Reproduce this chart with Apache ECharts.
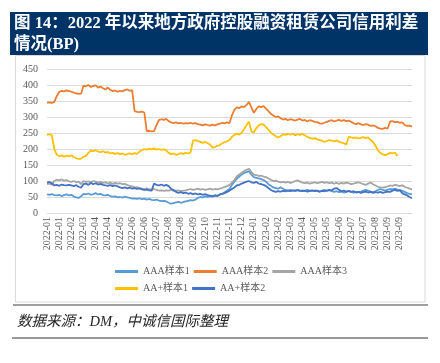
<!DOCTYPE html>
<html><head><meta charset="utf-8">
<script src="https://cdn.jsdelivr.net/npm/echarts@6/dist/echarts.min.js"></script>
<style>html,body{margin:0;padding:0;background:#fff;}#c{width:440px;height:363px;}</style>
</head><body><div id="c"></div>
<script>
const tickLabels = ['2022-01','2022-01','2022-02','2022-03','2022-04','2022-04','2022-05','2022-06','2022-06','2022-07','2022-08','2022-08','2022-09','2022-10','2022-11','2022-11','2022-12','2023-01','2023-02','2023-02','2023-03','2023-04','2023-05','2023-05','2023-06','2023-07','2023-07','2023-08','2023-09','2023-09'];
const pointsPerLabel = 5;
const pointCount = 151;
const seriesNames = ['AAA样本1','AAA样本2','AAA样本3','AA+样本1','AA+样本2'];
const yTicks = [0,50,100,150,200,250,300,350,400,450];

const aaa1 = [58,57,59,56,55,57,53,56,58,55,
57,52,49,47,52,60,58,61,57,59,
62,58,60,56,55,57,53,51,52,49,
50,48,51,49,47,45,46,44,46,43,
45,42,44,41,40,42,39,37,38,36,
32,29,31,33,35,32,34,36,38,40,
39,42,47,50,49,52,50,53,51,55,
54,57,60,65,70,75,88,98,107,114,
120,125,128,130,120,112,110,108,106,103,
98,90,85,80,78,76,80,76,72,70,
72,69,71,70,68,71,69,72,70,68,
71,69,67,70,72,69,71,68,66,68,
65,67,64,66,68,66,64,66,65,67,
70,72,70,67,65,68,72,75,72,70,
73,75,74,76,73,72,69,66,62,60,58];

const aaa2 = [345,346,344,347,365,378,382,380,383,381,
379,376,374,372,373,398,396,400,394,397,
399,392,395,390,386,392,385,381,383,379,
382,380,384,386,382,384,318,316,315,317,
314,256,257,255,256,275,290,293,291,294,
287,283,281,283,280,282,279,281,280,282,
279,281,278,276,274,277,275,273,276,274,
277,279,282,280,283,281,305,322,330,328,
333,331,338,347,330,313,325,333,331,334,
326,318,310,305,300,302,296,292,294,290,
293,291,289,292,294,289,291,286,290,288,
285,284,280,279,282,285,288,290,286,289,
291,288,290,287,289,285,280,278,281,277,
275,278,276,272,274,271,266,264,263,266,
264,286,287,284,285,282,283,275,272,273,270];

const aaa3 = [90,92,88,100,104,102,105,101,103,99,
97,100,96,98,90,100,97,99,96,100,
98,95,97,94,96,92,95,91,94,92,
93,90,91,87,85,83,80,81,78,76,
74,77,75,73,75,72,70,71,69,71,
70,72,69,70,71,68,70,71,73,75,
72,74,76,73,75,72,74,76,73,75,
74,76,78,82,84,88,95,103,115,120,
126,131,135,138,128,120,118,116,117,114,
112,108,104,100,101,98,96,97,95,97,
94,96,100,102,98,95,93,95,92,94,
96,93,95,97,94,96,93,95,92,94,
91,94,92,95,93,90,92,94,96,93,
90,88,92,95,90,86,82,80,79,81,
83,86,85,88,86,84,87,82,79,76,74];

const aap1 = [244,246,243,200,182,178,180,176,179,177,
180,175,171,169,170,176,178,188,195,193,
196,192,190,193,189,191,186,188,185,187,
184,186,182,184,186,184,187,185,192,196,
200,198,201,199,202,198,200,197,199,196,
188,184,186,182,184,187,185,188,186,190,
226,228,225,222,219,222,218,214,204,206,
210,212,218,222,224,228,238,244,248,245,
251,262,275,285,255,252,265,274,278,276,
268,260,252,245,240,236,240,246,244,247,
245,248,243,246,244,247,242,238,235,232,
234,230,228,226,222,225,228,226,224,227,
223,220,218,214,238,236,234,236,233,235,
237,234,236,228,222,210,196,188,183,181,
184,188,186,189,178,null,null,null,null,null,null];

const aap2 = [95,97,93,86,88,85,89,87,86,88,
86,84,87,82,79,90,92,88,94,90,
93,89,91,88,86,85,87,84,86,83,
80,78,80,77,79,76,78,75,77,74,
72,73,71,70,92,88,86,89,85,88,
84,76,72,66,63,65,62,64,60,62,
59,61,58,60,57,59,56,54,52,55,
53,58,60,62,66,70,75,80,86,88,
92,95,98,100,96,94,97,92,90,88,
84,78,72,68,66,68,67,69,68,70,
68,71,69,72,70,68,70,67,69,71,
68,70,67,69,68,70,72,71,76,78,
73,68,70,67,69,66,68,64,66,63,
65,67,64,66,63,65,64,66,63,65,
67,66,70,72,69,71,62,58,55,50,46];

const colors = ['#5B9BD5','#ED7D31','#A5A5A5','#FFC000','#4472C4'];
const allData = [aaa1, aaa2, aaa3, aap1, aap2];

const categories = [];
for (let i = 0; i < pointCount; i++) {
  const k = i / pointsPerLabel;
  categories.push(i % pointsPerLabel === 0 && k < tickLabels.length ? tickLabels[k] : '');
}

const serif = '"Liberation Serif", "Noto Sans CJK SC"';
const chart = echarts.init(document.getElementById('c'), null, {renderer: 'canvas'});
chart.setOption({
  animation: false,
  color: colors,
  grid: {left: 47, right: 28, top: 69, bottom: 150, containLabel: false},
  xAxis: {
    type: 'category', data: categories, boundaryGap: false,
    axisLine: {lineStyle: {color: '#d9d9d9', width: 1}},
    axisTick: {show: false},
    axisLabel: {
      rotate: 90, margin: 4, color: '#595959', fontSize: 10, fontFamily: serif,
      interval: function (idx) { return idx % pointsPerLabel === 0 && idx / pointsPerLabel < tickLabels.length; }
    },
    splitLine: {show: false}
  },
  yAxis: {
    type: 'value', min: yTicks[0], max: yTicks[yTicks.length - 1], interval: 50,
    axisLine: {show: false}, axisTick: {show: false},
    axisLabel: {color: '#595959', fontSize: 10, fontFamily: serif, margin: 9},
    splitLine: {lineStyle: {color: '#d9d9d9', width: 1}}
  },
  legend: {
    left: 110, top: 260, width: 240, itemGap: 4, itemWidth: 23, itemHeight: 3,
    icon: 'rect',
    textStyle: {color: '#595959', fontSize: 10, fontFamily: serif, lineHeight: 13},
    data: seriesNames
  },
  series: seriesNames.map((n, k) => ({
    name: n, type: 'line', data: allData[k], symbol: 'none', showSymbol: false,
    lineStyle: {width: 1.8, color: colors[k]}, itemStyle: {color: colors[k]}
  })),
  graphic: [
    {type: 'rect', shape: {x: 10, y: 12, width: 418, height: 43}, style: {fill: '#003366'}, z: 10},
    {type: 'text', x: 14, y: 24, z: 11, style: {text: '图 14：2022 年以来地方政府控股融资租赁公司信用利差', fill: '#ffffff', font: 'bold 16.5px ' + serif, verticalAlign: 'middle', textVerticalAlign: 'middle'}},
    {type: 'text', x: 14, y: 45, z: 11, style: {text: '情况(BP)', fill: '#ffffff', font: 'bold 16.5px ' + serif, verticalAlign: 'middle', textVerticalAlign: 'middle'}},
    {type: 'rect', shape: {x: 15.5, y: 55.5, width: 409.5, height: 246.5}, style: {fill: 'none', stroke: '#d9d9d9', lineWidth: 1}, z: 1},
    {type: 'line', shape: {x1: 13, y1: 305, x2: 428, y2: 305}, style: {stroke: '#7f7f7f', lineWidth: 1.5}, z: 1},
    {type: 'text', x: 17, y: 322, z: 11, style: {text: '数据来源：DM，中诚信国际整理', fill: '#262626', font: 'italic 14.5px ' + serif, verticalAlign: 'middle', textVerticalAlign: 'middle'}},
    {type: 'line', shape: {x1: 12, y1: 338, x2: 428, y2: 338}, style: {stroke: '#999999', lineWidth: 2}, z: 1}
  ]
});
</script></body></html>
